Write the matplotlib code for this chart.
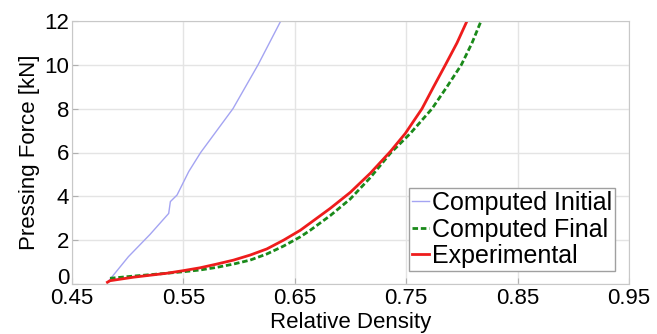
import matplotlib
matplotlib.use("Agg")
import matplotlib.pyplot as plt
from matplotlib.transforms import ScaledTranslation

plt.rcParams['font.family'] = ['Liberation Sans', 'DejaVu Sans']

# Data
init_x = [0.4818, 0.5007, 0.5200, 0.5368, 0.5383, 0.5443, 0.5548, 0.5655, 0.5945, 0.6170, 0.6374]
init_y = [0.07, 1.25, 2.26, 3.22, 3.76, 4.06, 5.13, 6.00, 8.00, 10.0, 12.0]

final_x = [0.4841, 0.5051, 0.5351, 0.5500, 0.5650, 0.5800, 0.5950, 0.6099, 0.6249, 0.6399,
           0.6549, 0.6638, 0.6818, 0.6998, 0.7177, 0.7357, 0.7537, 0.7732, 0.7866, 0.7995,
           0.8091, 0.8172]
final_y = [0.26, 0.36, 0.49, 0.56, 0.64, 0.76, 0.91, 1.09, 1.37, 1.73,
           2.15, 2.45, 3.12, 3.88, 4.85, 5.96, 6.87, 8.00, 9.00, 10.0,
           11.0, 12.0]

exp_x = [0.4818, 0.4841, 0.5051, 0.5351, 0.5500, 0.5650, 0.5800, 0.5950, 0.6099, 0.6249,
         0.6399, 0.6549, 0.6638, 0.6818, 0.6998, 0.7177, 0.7357, 0.7492, 0.7642, 0.7746,
         0.7852, 0.7956, 0.8046]
exp_y = [0.08, 0.15, 0.31, 0.49, 0.61, 0.74, 0.91, 1.09, 1.32, 1.60,
         2.00, 2.45, 2.78, 3.45, 4.18, 5.05, 6.04, 6.87, 8.00, 9.00,
         10.0, 11.0, 12.0]

xticks = [0.45, 0.55, 0.65, 0.75, 0.85, 0.95]
yticks = [0, 2, 4, 6, 8, 10, 12]
labels = ["Computed Initial", "Computed Final", "Experimental"]

fig = plt.figure(figsize=(6.57, 3.34), dpi=100)
ax = fig.add_axes([72/657, 1-284/334, 557/657, 263/334])

ax.plot(init_x, init_y, color='#a4a4f2', lw=1.0, label=labels[0])
ax.plot(final_x, final_y, color='#1a8a1a', lw=2.0, ls=(0, (2, 1)), label=labels[1])
ax.plot(exp_x, exp_y, color='#ee1c1c', lw=2.0, label=labels[2])

ax.set_xlim(0.45, 0.95)
ax.set_ylim(0, 12)
ax.set_xticks(xticks)
ax.set_xticklabels([f"{t:.2f}" for t in xticks])
ax.set_yticks(yticks)
ax.grid(True, color='#e4e4e4', lw=1.0, ls='-')
ax.set_axisbelow(True)
for s in ax.spines.values():
    s.set_color('#c8c8c8')
ax.tick_params(direction='in', length=4, color='#b0b0b0', labelsize=16, pad=2)
ax.tick_params(axis='x', pad=3)

# raise the "0" y tick label slightly, as in the reference
fig.canvas.draw()
ylabs = ax.get_yticklabels()
ylabs[0].set_transform(ylabs[0].get_transform() + ScaledTranslation(0, 8/100, fig.dpi_scale_trans))

ax.set_xlabel("Relative Density", fontsize=16, labelpad=2)
ax.set_ylabel("Pressing Force [kN]", fontsize=16, labelpad=3)

leg = ax.legend(loc='lower right', bbox_to_anchor=(0.975, 0.049), borderaxespad=0,
                fontsize=18, handlelength=0.7, handletextpad=0.1, labelspacing=0.1,
                borderpad=0.12, fancybox=False, framealpha=1, edgecolor='#a0a0a0')
leg.get_frame().set_linewidth(1.0)

fig.savefig("out.png", dpi=100)
